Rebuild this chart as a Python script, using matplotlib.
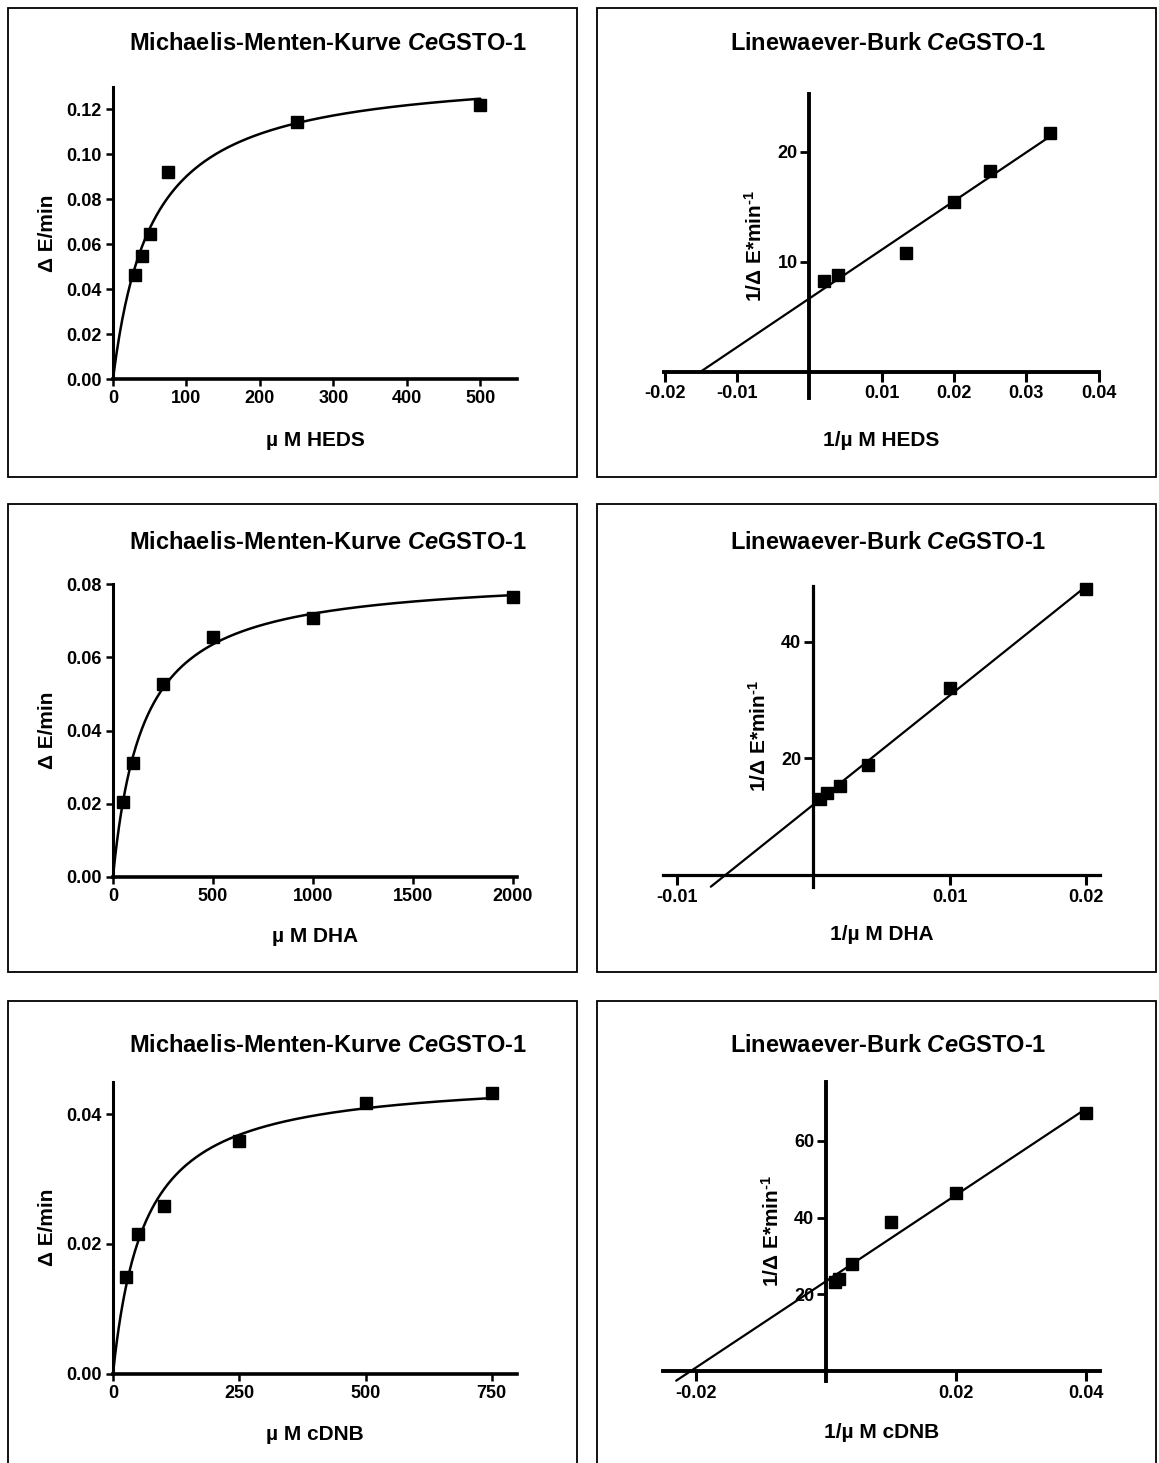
import numpy as np
import matplotlib
matplotlib.use('Agg')
import matplotlib.pyplot as plt
from matplotlib.patches import Rectangle
import matplotlib.transforms as mtransforms

plt.rcParams['font.family'] = ['Liberation Sans', 'DejaVu Sans']
plt.rcParams['font.weight'] = 'bold'
plt.rcParams['mathtext.fontset'] = 'custom'
plt.rcParams['mathtext.it'] = 'Liberation Sans:bold:italic'
plt.rcParams['mathtext.rm'] = 'Liberation Sans:bold'
plt.rcParams['mathtext.bf'] = 'Liberation Sans:bold'
plt.rcParams['mathtext.default'] = 'regular'

W, H, DPI = 1159, 1463, 100

# ---------------- data ----------------
substrates = ['HEDS', 'DHA', 'cDNB']

heds_conc = [30, 40, 50, 75, 250, 500]
heds_rate = [0.0462, 0.0549, 0.0647, 0.0924, 0.1143, 0.1220]
dha_conc = [50, 100, 250, 500, 1000, 2000]
dha_rate = [0.0204, 0.0311, 0.0528, 0.0656, 0.0707, 0.0766]
cdnb_conc = [25, 50, 100, 250, 500, 750]
cdnb_rate = [0.01485, 0.0216, 0.0258, 0.0358, 0.0417, 0.0432]

concs = [heds_conc, dha_conc, cdnb_conc]
rates = [heds_rate, dha_rate, cdnb_rate]

mm_xticks = [[0, 100, 200, 300, 400, 500], [0, 500, 1000, 1500, 2000], [0, 250, 500, 750]]
mm_yticks = [[0.00, 0.02, 0.04, 0.06, 0.08, 0.10, 0.12], [0.00, 0.02, 0.04, 0.06, 0.08], [0.00, 0.02, 0.04]]
mm_xlim = [(0, 550), (0, 2020), (0, 800)]
mm_ylim = [(0, 0.13), (0, 0.08), (0, 0.045)]

lb_xticks = [[-0.02, -0.01, 0.01, 0.02, 0.03, 0.04], [-0.01, 0.01, 0.02], [-0.02, 0.02, 0.04]]
lb_xticklabels = [['-0.02', '-0.01', '0.01', '0.02', '0.03', '0.04'], ['-0.01', '0.01', '0.02'], ['-0.02', '0.02', '0.04']]
lb_yticks = [[10, 20], [20, 40], [20, 40, 60]]
lb_xlim = [(-0.0201, 0.0401), (-0.01097, 0.02102), (-0.0250, 0.0421)]
lb_ylim = [(-2.4, 25.2), (-2.0, 49.6), (-2.5, 75.4)]
lb_line_start_at_zero = [True, False, False]

# ---------------- layout (pixels) ----------------
mm_rects = [(113, 517, 87, 379.3), (113, 517, 584.3, 876.7), (113, 517, 1081.7, 1373.7)]
lb_rects = [(664, 1099.3, 94.3, 398), (663.3, 1100, 586, 886.7), (663.3, 1100, 1081.7, 1380.7)]
title_y = [43, 543, 1045]
mm_xlabel_y = [440, 936.7, 1435]
lb_xlabel_y = [440, 935, 1433]
boxes_y = [(8, 477), (504, 971.7), (1000.7, 1469)]
boxes_x = [(8, 576.5), (596.7, 1156)]
lb_spine_lw = [2.8, 2.3, 2.8]


def fit_mm(s, v):
    s = np.asarray(s, float)
    v = np.asarray(v, float)
    km = np.linspace(1, 3000, 60000)[:, None]
    f = s[None, :] / (km + s[None, :])
    vmax = (f * v).sum(1) / (f * f).sum(1)
    sse = ((v[None, :] - vmax[:, None] * f) ** 2).sum(1)
    i = np.argmin(sse)
    return km[i, 0], vmax[i]


def ax_rect(l, r, t, b):
    return [l / W, 1 - b / H, (r - l) / W, (b - t) / H]


fig = plt.figure(figsize=(W / DPI, H / DPI), dpi=DPI)
fig.patch.set_facecolor('white')

for (x0, x1) in boxes_x:
    for (y0, y1) in boxes_y:
        fig.patches.append(Rectangle((x0 / W, 1 - y1 / H), (x1 - x0) / W, (y1 - y0) / H,
                                     transform=fig.transFigure, fill=False,
                                     lw=1.3, ec='black', zorder=0))

for i in range(3):
    s = np.asarray(concs[i], float)
    v = np.asarray(rates[i], float)

    # ---- Michaelis-Menten panel ----
    ax = fig.add_axes(ax_rect(*mm_rects[i]))
    km, vmax = fit_mm(s, v)
    xs = np.linspace(0, s.max(), 400)
    ax.plot(xs, vmax * xs / (km + xs), color='black', lw=1.8, solid_capstyle='round', clip_on=False)
    ax.plot(s, v, 's', color='black', ms=8.6, clip_on=False, zorder=5)
    ax.set_xlim(*mm_xlim[i])
    ax.set_ylim(*mm_ylim[i])
    ax.set_xticks(mm_xticks[i])
    ax.set_xticklabels([str(t) for t in mm_xticks[i]])
    ax.set_yticks(mm_yticks[i])
    ax.set_yticklabels(['%.2f' % t for t in mm_yticks[i]])
    for sp in ['top', 'right']:
        ax.spines[sp].set_visible(False)
    ax.spines['left'].set_linewidth(2.2)
    ax.spines['bottom'].set_linewidth(2.6)
    ax.tick_params(direction='out', length=5, width=1.8, pad=3, labelsize=13)
    for lab in ax.get_xticklabels() + ax.get_yticklabels():
        lab.set_fontweight('bold')
    ax.patch.set_alpha(0)

    fig.text(328 / W, 1 - title_y[i] / H, r'Michaelis-Menten-Kurve $\mathit{Ce}$GSTO-1',
             ha='center', va='center', fontsize=17, fontweight='bold')
    fig.text(315 / W, 1 - mm_xlabel_y[i] / H, 'µ M ' + substrates[i],
             ha='center', va='center', fontsize=15, fontweight='bold')
    ycen = (mm_rects[i][2] + mm_rects[i][3]) / 2
    fig.text(48 / W, 1 - ycen / H, 'Δ E/min', rotation=90,
             ha='center', va='center', fontsize=15, fontweight='bold')

    # ---- Lineweaver-Burk panel ----
    ax2 = fig.add_axes(ax_rect(*lb_rects[i]))
    rx = 1.0 / s
    ry = 1.0 / v
    m, b = np.polyfit(rx, ry, 1)
    y_start = 0.0 if lb_line_start_at_zero[i] else lb_ylim[i][0]
    x_start = (y_start - b) / m
    xl = np.array([x_start, rx.max()])
    ax2.plot(xl, m * xl + b, color='black', lw=1.6, solid_capstyle='round', clip_on=False)
    ax2.plot(rx, ry, 's', color='black', ms=8.6, clip_on=False, zorder=5)
    ax2.set_xlim(*lb_xlim[i])
    ax2.set_ylim(*lb_ylim[i])
    ax2.spines['left'].set_position(('data', 0))
    ax2.spines['bottom'].set_position(('data', 0))
    for sp in ['top', 'right']:
        ax2.spines[sp].set_visible(False)
    ax2.spines['left'].set_linewidth(lb_spine_lw[i])
    ax2.spines['bottom'].set_linewidth(lb_spine_lw[i])
    ax2.set_xticks(lb_xticks[i])
    ax2.set_xticklabels(lb_xticklabels[i])
    ax2.set_yticks(lb_yticks[i])
    ax2.set_yticklabels([str(t) for t in lb_yticks[i]])
    ax2.tick_params(axis='x', direction='out', length=7, width=2.2, pad=3, labelsize=13)
    ax2.tick_params(axis='y', direction='out', length=6.5, width=2.0, pad=2, labelsize=13)
    for lab in ax2.get_xticklabels() + ax2.get_yticklabels():
        lab.set_fontweight('bold')
    ax2.patch.set_alpha(0)

    fig.text(888 / W, 1 - title_y[i] / H, r'Linewaever-Burk $\mathit{Ce}$GSTO-1',
             ha='center', va='center', fontsize=17, fontweight='bold')
    xcen = (lb_rects[i][0] + lb_rects[i][1]) / 2
    fig.text(xcen / W, 1 - lb_xlabel_y[i] / H, '1/µ M ' + substrates[i],
             ha='center', va='center', fontsize=15, fontweight='bold')
    trans = mtransforms.blended_transform_factory(ax2.transData, ax2.transAxes)
    ax2.annotate(r'1/Δ E*min$^{\text{-1}}$', xy=(0, 0.5), xycoords=trans,
                 xytext=(-39, 0), textcoords='offset points', rotation=90,
                 ha='center', va='center', fontsize=15, fontweight='bold',
                 annotation_clip=False)

fig.savefig('out.png', dpi=DPI, facecolor='white')
